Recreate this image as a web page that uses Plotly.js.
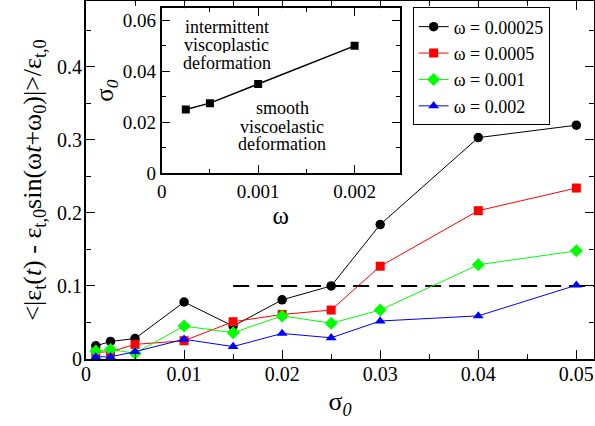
<!DOCTYPE html>
<html><head>
<script src="https://cdn.plot.ly/plotly-3.0.1.min.js"></script>
<style>body{margin:0;background:#fff}</style>
</head><body>
<div id="chart" style="width:595px;height:426px"></div>
<script>
// main plot data
const sigma0 = [0.001, 0.0025, 0.005, 0.01, 0.015, 0.02, 0.025, 0.03, 0.04, 0.05];
const dev_w00025 = [0.018, 0.024, 0.028, 0.078, 0.045, 0.081, 0.100, 0.184, 0.303, 0.320];
const dev_w0005  = [0.009, 0.010, 0.020, 0.025, 0.051, 0.061, 0.067, 0.127, 0.203, 0.234];
const dev_w001   = [0.011, 0.013, 0.008, 0.045, 0.036, 0.059, 0.049, 0.067, 0.129, 0.148];
const dev_w002   = [0.003, 0.003, 0.010, 0.027, 0.017, 0.035, 0.029, 0.052, 0.059, 0.101];
const seriesNames = ["ω = 0.00025", "ω = 0.0005", "ω = 0.001", "ω = 0.002"];
// threshold line
const thresholdX = [0.015, 0.0518];
const thresholdY = [0.1, 0.1];
// inset data
const insetOmega = [0.00025, 0.0005, 0.001, 0.002];
const insetSigma = [0.025, 0.0275, 0.035, 0.050];
// inset region labels (one line each)
const upperLabel = ["intermittent", "viscoplastic", "deformation"];
const lowerLabel = ["smooth", "viscoelastic", "deformation"];

const FONT = "Liberation Serif";
const colors = ["#000000", "#ff0000", "#00ff00", "#0000ff"];
const symbols = ["circle", "square", "diamond", "triangle-up"];
const sizes = [9.5, 9, 10, 9.5];
const ys = [dev_w00025, dev_w0005, dev_w001, dev_w002];

const traces = [];
traces.push({x: thresholdX, y: thresholdY, mode: "lines", showlegend: false,
  line: {color: "#000", width: 2, dash: "16px,8px"}, xaxis: "x", yaxis: "y"});
ys.forEach((y, i) => {
  traces.push({x: sigma0, y: y, name: seriesNames[i], mode: "lines+markers",
    line: {color: colors[i], width: 1},
    marker: {color: colors[i], symbol: symbols[i], size: sizes[i]},
    xaxis: "x", yaxis: "y"});
});
traces.push({x: insetOmega, y: insetSigma, mode: "lines+markers", showlegend: false,
  line: {color: "#000", width: 1.5}, marker: {color: "#000", symbol: "square", size: 8},
  xaxis: "x2", yaxis: "y2"});

function ax(extra) {
  return Object.assign({showline: true, linecolor: "#000", linewidth: 2, mirror: "allticks",
    ticks: "inside", ticklen: 9, tickwidth: 1.2, tickcolor: "#000",
    showgrid: false, zeroline: false, tickfont: {family: FONT, size: 20, color: "#000"}}, extra);
}

const annFont = {family: FONT, size: 18, color: "#000"};
const annotations = [];
const upperY = [0.0577, 0.0505, 0.0434];
const lowerY = [0.0258, 0.0185, 0.0117];
upperLabel.forEach((t, i) => annotations.push({xref: "x2", yref: "y2", x: 0.000677, y: upperY[i],
  showarrow: false, text: t, font: annFont, yanchor: "middle", height: 17, borderpad: 0}));
lowerLabel.forEach((t, i) => annotations.push({xref: "x2", yref: "y2", x: 0.00125, y: lowerY[i],
  showarrow: false, text: t, font: annFont, yanchor: "middle", height: 17, borderpad: 0}));

const layout = {
  width: 595, height: 426,
  margin: {l: 86, r: 1, t: 1, b: 67},
  paper_bgcolor: "#fff", plot_bgcolor: "#fff",
  xaxis: ax({range: [0, 0.0518], tick0: 0, dtick: 0.01, ticklabelstandoff: -4,
    minor: {dtick: 0.005, ticklen: 5, ticks: "inside", tickcolor: "#000"},
    title: {text: "σ<sub><i>0</i></sub>", font: {family: FONT, size: 26, color: "#000"}, standoff: 8}}),
  yaxis: ax({range: [0, 0.49], tick0: 0, dtick: 0.1, ticklabelstandoff: -2,
    minor: {dtick: 0.05, ticklen: 5, ticks: "inside", tickcolor: "#000"},
    title: {text: "&lt;|ε<sub>t</sub>(<i>t</i>) - ε<sub>t,0</sub>sin(ω<i>t</i>+ω<sub>0</sub>)|&gt;/ε<sub>t,0</sub>",
      font: {family: FONT, size: 26, color: "#000"}, standoff: 8}}),
  xaxis2: ax({domain: [0.149, 0.618], anchor: "y2",
    range: [0, 0.00247], tick0: 0, dtick: 0.001, ticklen: 8,
    minor: {dtick: 0.0005, ticklen: 4, ticks: "inside", tickcolor: "#000"},
    tickfont: {family: FONT, size: 19, color: "#000"},
    title: {text: "ω", font: {family: FONT, size: 25, color: "#000"}, standoff: 0}}),
  yaxis2: ax({domain: [0.519, 0.980], anchor: "x2",
    range: [0, 0.0648], tick0: 0, dtick: 0.02, ticklen: 8,
    minor: {dtick: 0.01, ticklen: 4, ticks: "inside", tickcolor: "#000"},
    tickfont: {family: FONT, size: 19, color: "#000"},
    title: {text: "σ<sub><i>0</i></sub>", font: {family: FONT, size: 25, color: "#000"}, standoff: 2}}),
  legend: {x: 0.643, y: 0.982, xanchor: "left", yanchor: "top",
    bgcolor: "#fff", bordercolor: "#000", borderwidth: 1,
    font: {family: FONT, size: 18, color: "#000"}, tracegroupgap: 0},
  annotations: annotations
};

Plotly.newPlot("chart", traces, layout, {displayModeBar: false});
</script>
</body></html>
